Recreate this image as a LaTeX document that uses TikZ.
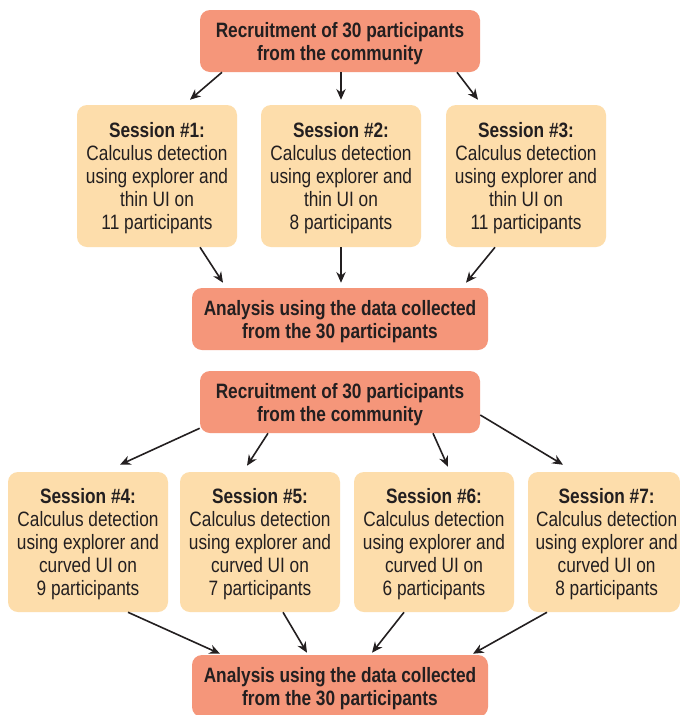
\documentclass[tikz,border=0pt]{standalone}
\usepackage{fontspec}
\setmainfont[FakeStretch=0.83]{Liberation Sans}
\usetikzlibrary{arrows.meta}
\definecolor{salmon}{RGB}{245,150,122}
\definecolor{peach}{RGB}{253,221,171}
\definecolor{ink}{RGB}{35,31,32}
\begin{document}
\begin{tikzpicture}[x=0.75pt,y=-0.75pt,
  box/.style={rounded corners=7.5pt, inner sep=0pt},
  bigbox/.style={box, fill=salmon, minimum width=210pt, minimum height=46.5pt},
  sessbox/.style={box, fill=peach, minimum width=120pt},
  txt/.style={inner sep=0pt, align=center, text=ink,
    font=\fontsize{15.6pt}{17.25pt}\selectfont},
  bigtxt/.style={txt, font=\fontsize{15.6pt}{17.25pt}\selectfont\bfseries},
  arr/.style={-{Stealth[length=8pt,width=7pt]}, line width=1.2pt, draw=ink}]
\clip (0,0) rectangle (680,715);
\fill[white] (0,0) rectangle (680,715);

% top half
\node[bigbox] (r1) at (340,41) {};
\node[bigtxt] (r1t) at ([yshift=-2pt]r1.center) {Recruitment of 30 participants\\from the community};
\node[sessbox, minimum height=106.5pt] (s1) at (157,176) {};
\node[txt] (s1t) at ([yshift=-1.6pt]s1.center) {\textbf{Session \#1:}\\Calculus detection\\using explorer and\\thin UI on\\11 participants};
\node[sessbox, minimum height=106.5pt] (s2) at (341,176) {};
\node[txt] (s2t) at ([yshift=-1.6pt]s2.center) {\textbf{Session \#2:}\\Calculus detection\\using explorer and\\thin UI on\\8 participants};
\node[sessbox, minimum height=106.5pt] (s3) at (526,176) {};
\node[txt] (s3t) at ([yshift=-1.6pt]s3.center) {\textbf{Session \#3:}\\Calculus detection\\using explorer and\\thin UI on\\11 participants};
\node[bigbox, minimum width=222pt] (a1) at (340,319) {};
\node[bigtxt] (a1t) at ([yshift=-2pt]a1.center) {Analysis using the data collected\\from the 30 participants};

\draw[arr] ([xshift=-88.5pt]r1.south) -- ([xshift=24.75pt,yshift=3.75pt]s1.north);
\draw[arr] ([xshift=0.75pt]r1.south) -- ([yshift=3.75pt]s2.north);
\draw[arr] ([xshift=87.75pt]r1.south) -- ([xshift=-36pt,yshift=3.75pt]s3.north);
\draw[arr] ([xshift=32.25pt]s1.south) -- ([xshift=-87.75pt,yshift=3.75pt]a1.north);
\draw[arr] (s2.south) -- ([xshift=0.75pt,yshift=3.75pt]a1.north);
\draw[arr] ([xshift=-23.25pt]s3.south) -- ([xshift=94.5pt,yshift=3.75pt]a1.north);

% bottom half
\node[bigbox] (r2) at (340,402) {};
\node[bigtxt] (r2t) at ([yshift=-2pt]r2.center) {Recruitment of 30 participants\\from the community};
\node[sessbox, minimum height=105pt] (s4) at (88,542) {};
\node[txt] (s4t) at ([yshift=-1.6pt]s4.center) {\textbf{Session \#4:}\\Calculus detection\\using explorer and\\curved UI on\\9 participants};
\node[sessbox, minimum height=105pt] (s5) at (260,542) {};
\node[txt] (s5t) at ([yshift=-1.6pt]s5.center) {\textbf{Session \#5:}\\Calculus detection\\using explorer and\\curved UI on\\7 participants};
\node[sessbox, minimum height=105pt] (s6) at (434,542) {};
\node[txt] (s6t) at ([yshift=-1.6pt]s6.center) {\textbf{Session \#6:}\\Calculus detection\\using explorer and\\curved UI on\\6 participants};
\node[sessbox, minimum height=105pt, minimum width=114pt] (s7) at (604,542) {};
\node[txt] (s7t) at ([xshift=2pt,yshift=-1.6pt]s7.center) {\textbf{Session \#7:}\\Calculus detection\\using explorer and\\curved UI on\\8 participants};
\node[bigbox, minimum width=222pt] (a2) at (340,686) {};
\node[bigtxt] (a2t) at ([yshift=-2pt]a2.center) {Analysis using the data collected\\from the 30 participants};

\draw[arr] ([yshift=3.75pt]r2.south west) -- ([xshift=24pt,yshift=5.25pt]s4.north);
\draw[arr] ([xshift=-54pt]r2.south) -- ([xshift=-9.75pt,yshift=4.5pt]s5.north);
\draw[arr] ([xshift=69.75pt]r2.south) -- ([xshift=10.5pt,yshift=3.75pt]s6.north);
\draw[arr] ([yshift=-9.75pt]r2.east) -- ([xshift=-30.75pt,yshift=5.25pt]s7.north);
\draw[arr] ([xshift=30pt]s4.south) -- ([xshift=-90pt,yshift=0.75pt]a2.north);
\draw[arr] ([xshift=17.25pt]s5.south) -- ([xshift=-24.75pt,yshift=1.5pt]a2.north);
\draw[arr] ([xshift=-22.5pt]s6.south) -- ([xshift=24pt,yshift=1.5pt]a2.north);
\draw[arr] ([xshift=-42.75pt]s7.south) -- ([xshift=99.75pt,yshift=0.75pt]a2.north);
\end{tikzpicture}
\end{document}
